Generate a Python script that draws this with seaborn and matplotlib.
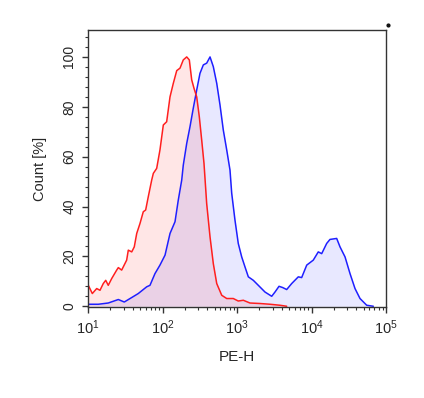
import matplotlib
matplotlib.use("Agg")
import matplotlib.pyplot as plt
import matplotlib.ticker as mticker
import numpy as np
import pandas as pd
import seaborn as sns

# PE-H positions, as decade exponents
red_log = [1.004, 1.058, 1.117, 1.161, 1.205, 1.238, 1.272, 1.318, 1.385, 1.407,
           1.452, 1.519, 1.541, 1.587, 1.621, 1.654, 1.698, 1.742, 1.774, 1.809,
           1.855, 1.877, 1.922, 1.966, 2.011, 2.056, 2.101, 2.145, 2.191, 2.235,
           2.279, 2.325, 2.360, 2.392, 2.423, 2.459, 2.494, 2.526, 2.557, 2.593,
           2.638, 2.682, 2.728, 2.795, 2.862, 2.950, 3.017, 3.085, 3.174, 3.309,
           3.443, 3.577, 3.667]
red_count = [8.4, 5.1, 7.1, 6.4, 9.1, 10.4, 8.4, 11.1, 14.5, 15.5,
             14.5, 18.5, 22.5, 21.8, 23.8, 29.2, 33.2, 37.9, 38.6, 43.9,
             50.6, 53.3, 55.3, 62.7, 72.7, 74.0, 84.0, 89.4, 94.5, 95.5,
             98.8, 100.0, 98.8, 90.8, 87.4, 84.0, 76.0, 66.7, 57.3, 41.2,
             27.8, 17.1, 9.1, 4.4, 3.1, 3.1, 2.1, 2.4, 1.3, 1.1,
             0.8, 0.4, 0.0]

blue_log = [1.004, 1.138, 1.272, 1.407, 1.487, 1.587, 1.675, 1.788, 1.832, 1.899,
            1.966, 2.034, 2.101, 2.168, 2.212, 2.258, 2.279, 2.325, 2.369, 2.413,
            2.459, 2.503, 2.548, 2.593, 2.638, 2.682, 2.728, 2.772, 2.816, 2.862,
            2.906, 2.929, 2.973, 3.017, 3.063, 3.107, 3.152, 3.219, 3.286, 3.376,
            3.466, 3.510, 3.564, 3.613, 3.667, 3.734, 3.823, 3.868, 3.936, 4.024,
            4.091, 4.137, 4.204, 4.248, 4.338, 4.383, 4.450, 4.517, 4.584, 4.651,
            4.741, 4.830]
blue_count = [0.8, 0.8, 1.3, 2.7, 1.7, 3.5, 5.1, 7.8, 8.4, 13.1,
              16.5, 20.5, 29.2, 33.9, 42.6, 50.6, 56.6, 65.3, 72.0, 79.4,
              86.7, 93.4, 96.8, 97.5, 100.0, 96.1, 89.4, 80.7, 70.7, 62.7,
              54.6, 45.3, 34.5, 25.2, 19.8, 15.8, 11.8, 10.4, 8.4, 5.7,
              4.0, 5.7, 8.0, 7.5, 6.7, 9.1, 11.8, 11.5, 16.5, 18.5,
              21.8, 21.1, 25.2, 26.8, 27.2, 23.8, 19.8, 13.1, 7.1, 3.1,
              0.4, 0.0]

x_label = "PE-H"
y_label = "Count [%]"

RED = "#ff1f1f"
BLUE = "#1f1fff"

sns.set_style("ticks")
plt.rcParams["font.family"] = ["Liberation Sans", "DejaVu Sans"]
plt.rcParams["mathtext.default"] = "regular"

red = pd.DataFrame({"pe": np.power(10.0, red_log), "count": red_count})
blue = pd.DataFrame({"pe": np.power(10.0, blue_log), "count": blue_count})

fig = plt.figure(figsize=(4.24, 3.98), dpi=100)
ax = fig.add_axes([88 / 424, 1 - 307 / 398, 298 / 424, 277 / 398])
ax.set_xscale("log")

ax.fill_between(blue["pe"], blue["count"], color=BLUE, alpha=0.1, lw=0)
ax.fill_between(red["pe"], red["count"], color=RED, alpha=0.11, lw=0)
sns.lineplot(data=blue, x="pe", y="count", color=BLUE, lw=1.1, ax=ax)
sns.lineplot(data=red, x="pe", y="count", color=RED, lw=1.1, ax=ax)

ax.set_xlim(10, 1e5)
ax.set_ylim(-0.3, 110.8)
ax.xaxis.set_major_locator(mticker.LogLocator(base=10))
ax.xaxis.set_minor_locator(mticker.LogLocator(base=10, subs=np.arange(2, 10)))
ax.xaxis.set_minor_formatter(mticker.NullFormatter())
ax.yaxis.set_major_locator(mticker.MultipleLocator(20))
ax.yaxis.set_minor_locator(mticker.MultipleLocator(4))

for side in ax.spines.values():
    side.set_color("#333333")
    side.set_linewidth(1.0)
ax.tick_params(which="major", direction="out", length=4.5, width=1.0, color="#333333")
ax.tick_params(which="minor", direction="out", length=2.3, width=0.8, color="#333333")
ax.tick_params(axis="x", labelsize=10.5, pad=4)
ax.tick_params(axis="y", labelsize=10, pad=4, labelrotation=90)
for t in ax.get_yticklabels():
    t.set_va("center")

ax.set_xlabel(x_label, fontsize=11, labelpad=9)
ax.set_ylabel(y_label, fontsize=10.5, labelpad=11)

fig.add_artist(plt.Line2D([388 / 424], [1 - 25 / 398], marker="o", markersize=2,
                          color="#111111", lw=0))

fig.savefig("out.png", dpi=100)
